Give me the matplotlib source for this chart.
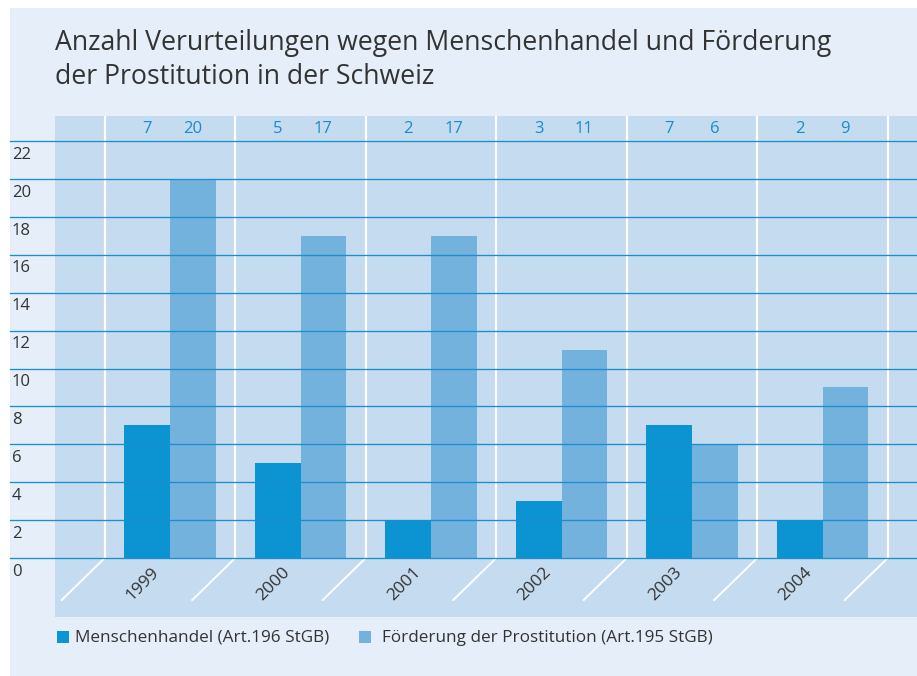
import matplotlib
matplotlib.use('Agg')
import matplotlib.pyplot as plt
from matplotlib.patches import Rectangle

years = ['1999', '2000', '2001', '2002', '2003', '2004']
menschenhandel = [7, 5, 2, 3, 7, 2]
foerderung = [20, 17, 17, 11, 6, 9]
yticks = list(range(0, 23, 2))
title = "Anzahl Verurteilungen wegen Menschenhandel und Förderung\nder Prostitution in der Schweiz"
legend_labels = ["Menschenhandel (Art.196 StGB)", "Förderung der Prostitution (Art.195 StGB)"]

BG = '#e6eff9'
PANEL = '#c5dbef'
DARK = '#0c93d2'
LIGHT = '#74b2de'
GRID = '#1a8fd0'
VAL = '#1a8bcd'
TXT = '#333333'
FONT = ['Open Sans', 'DejaVu Sans']
plt.rcParams['font.family'] = FONT

W, H = 917, 676
fig = plt.figure(figsize=(W / 100, H / 100), dpi=100)
fig.patch.set_facecolor('white')


def fx(x):
    return x / W


def fy(y):
    return 1 - y / H


fig.patches.append(Rectangle((fx(10), 0), 1 - fx(10), fy(8), transform=fig.transFigure,
                             facecolor=BG, edgecolor='none', zorder=-5))

# pixel geometry
x0px, gpx = 170.0, 130.5   # first group center, group spacing
y0px, upx = 558.0, 18.95   # zero line, px per unit
L, R, T, B = 10, 917, 116, 617

ax = fig.add_axes([fx(L), fy(B), fx(R) - fx(L), fy(T) - fy(B)])
ax.set_facecolor('none')
xl = ((L - x0px) / gpx, (R - x0px) / gpx)
yl = (-(B - y0px) / upx, (y0px - T) / upx)
ax.set_xlim(*xl)
ax.set_ylim(*yl)
ax.axis('off')

panel_left = (55 - x0px) / gpx
ax.add_patch(Rectangle((panel_left, yl[0]), xl[1] - panel_left, yl[1] - yl[0],
                       facecolor=PANEL, edgecolor='none', zorder=1))

n = len(years)
xs = list(range(n))
bw = 0.35
ax.bar([x - bw / 2 for x in xs], menschenhandel, width=bw, color=DARK, zorder=2)
ax.bar([x + bw / 2 for x in xs], foerderung, width=bw, color=LIGHT, zorder=2)

# white separators with diagonal tails
ddx = -43 / gpx
ddy = -(600 - y0px) / upx
for i in range(n + 1):
    sx = i - 0.5
    ax.plot([sx, sx], [0, yl[1]], color='white', lw=1.6, zorder=3, solid_capstyle='butt')
    ax.plot([sx, sx + ddx], [0, ddy], color='white', lw=1.4, zorder=3)

# grid lines
for v in yticks:
    ax.plot([xl[0], xl[1]], [v, v], color=GRID, lw=0.95, zorder=4, clip_on=False)
    ax.text((12 - x0px) / gpx, v - 0.72, str(v), ha='left', va='center',
            fontsize=12, color=TXT, zorder=5)

# value labels in top band
ytop = (y0px - 129) / upx
for i in range(n):
    ax.text(i - bw / 2, ytop, str(menschenhandel[i]), ha='center', va='center',
            fontsize=12, color=VAL, zorder=5)
    ax.text(i + bw / 2, ytop, str(foerderung[i]), ha='center', va='center',
            fontsize=12, color=VAL, zorder=5)

# year labels
for i, yr in enumerate(years):
    ax.text(i - 27 / gpx, -(584 - y0px) / upx, yr, rotation=45, ha='center', va='center',
            rotation_mode='anchor', fontsize=12.5, color=TXT, zorder=5)

# title
fig.text(fx(55), fy(29), title, ha='left', va='top', fontsize=19.2, color=TXT,
         linespacing=1.3)

# legend
for (sqx, tx), lab, col in zip([(57, 75), (359, 382)], legend_labels, [DARK, LIGHT]):
    fig.patches.append(Rectangle((fx(sqx), fy(643)), 12 / W, 12 / H, transform=fig.transFigure,
                                 facecolor=col, edgecolor='none', zorder=2))
    fig.text(fx(tx), fy(638), lab, ha='left', va='center', fontsize=12.3, color=TXT)

fig.savefig('out.png', dpi=100, facecolor=fig.get_facecolor())
